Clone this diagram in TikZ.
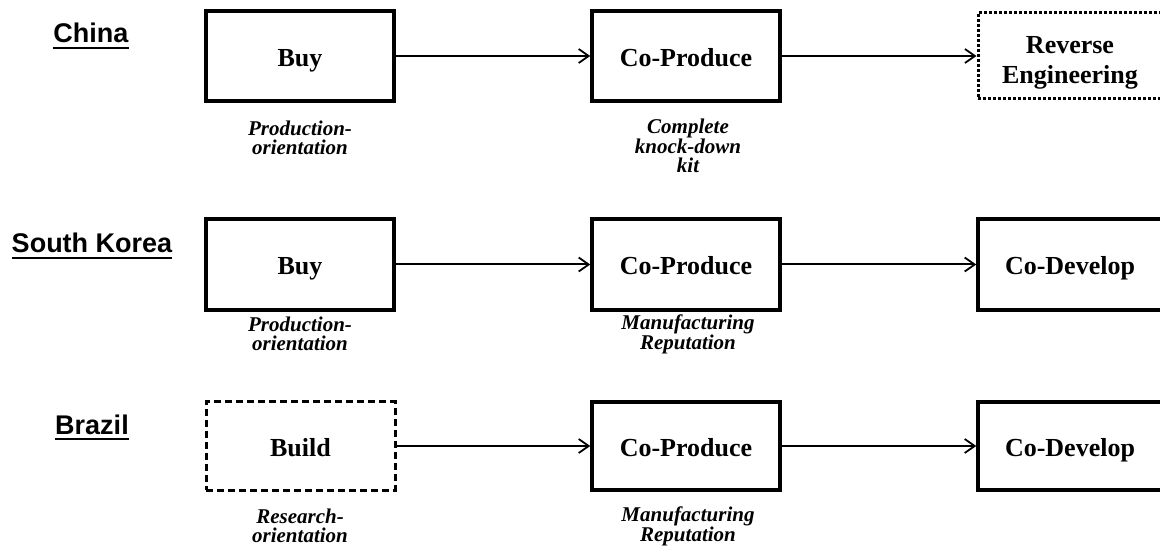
\documentclass[tikz,border=0pt]{standalone}
\usepackage{fontspec}
\setmainfont{Liberation Serif}
\setsansfont{Liberation Sans}
\usetikzlibrary{arrows.meta}
\begin{document}
\begin{tikzpicture}[x=1pt,y=-1pt,
  boxbase/.style={draw, line width=3.5pt, inner sep=0pt, minimum width=188pt, minimum height=90pt,
    align=center, font=\fontsize{26}{30}\selectfont\bfseries},
  stagebox/.style={boxbase, text height=24pt, text depth=3pt},
  dashbox/.style={stagebox, dash pattern=on 7pt off 4pt, line width=3pt},
  dotbox/.style={boxbase, dash pattern=on 3pt off 2pt, line width=3pt},
  note/.style={align=center, inner sep=0pt, font=\fontsize{21}{19}\selectfont\bfseries\itshape},
  country/.style={inner sep=0pt, anchor=base, font=\fontsize{27}{30}\selectfont\sffamily\bfseries},
  uline/.style={line width=2pt},
  flow/.style={line width=2pt, -{Straight Barb[length=10pt,width=14pt,line width=1.8pt]}}]
\useasboundingbox (0,0) rectangle (1160,553);
\clip (0,0) rectangle (1160,553);

% country labels
\node[country] (cn) at (91,43) {China};
\node[country] (kr) at (92,253) {South Korea};
\node[country] (br) at (92,434) {Brazil};
\foreach \n in {cn,kr,br}
  \draw[uline] ([yshift=-5pt]\n.base west) -- ([yshift=-5pt]\n.base east);

% row 1: China
\node[stagebox] (b1) at (300,56) {Buy};
\node[stagebox] (p1) at (686,56) {Co-Produce};
\node[dotbox, minimum width=184pt, minimum height=86pt] (r1) at (1070,56) {\rule{0pt}{30pt}Reverse\\Engineering};
\draw[flow] (b1) -- (p1);
\draw[flow] (p1) -- (r1);
\node[note] (n11) at (300,138) {Production-\\orientation};
\node[note] (n12) at (688,146) {Complete\\knock-down\\kit};

% row 2: South Korea
\node[stagebox, minimum height=91pt] (b2) at (300,264.5) {Buy};
\node[stagebox, minimum height=91pt] (p2) at (686,264.5) {Co-Produce};
\node[stagebox, minimum width=184pt, minimum height=91pt] (d2) at (1070,264.5) {Co-Develop};
\draw[flow] (b2) -- (p2);
\draw[flow] (p2) -- (d2);
\node[note] (n21) at (300,334) {Production-\\orientation};
\node[note] (n22) at (688,334) {Manufacturing\\Reputation};

% row 3: Brazil
\node[dashbox, minimum width=189pt, minimum height=88pt] (b3) at (300.5,446) {Build};
\node[stagebox, minimum height=88pt] (p3) at (686,446) {Co-Produce};
\node[stagebox, minimum width=184pt, minimum height=88pt] (d3) at (1070,446) {Co-Develop};
\draw[flow] (b3) -- (p3);
\draw[flow] (p3) -- (d3);
\node[note] (n31) at (300,526) {Research-\\orientation};
\node[note] (n32) at (688,526) {Manufacturing\\Reputation};
\end{tikzpicture}
\end{document}
